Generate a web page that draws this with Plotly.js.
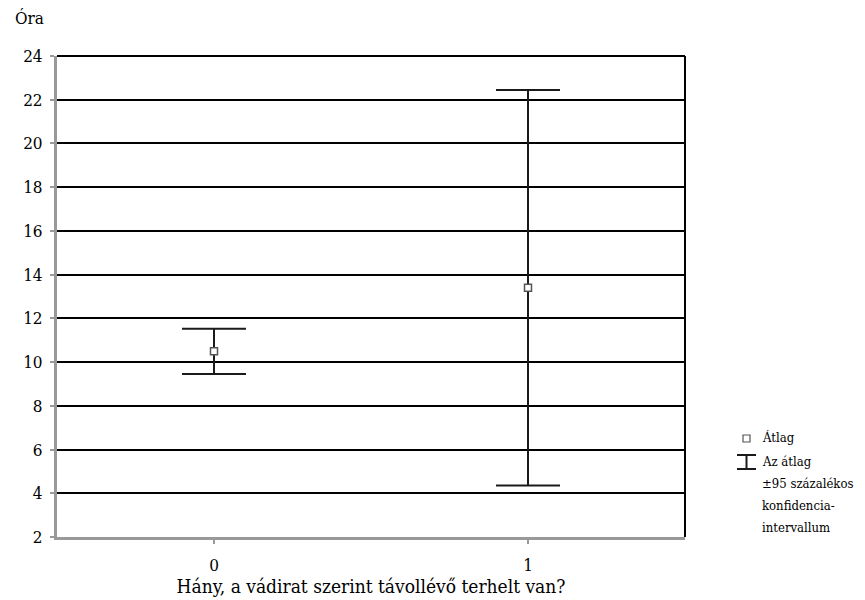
<!DOCTYPE html>
<html>
<head>
<meta charset="utf-8">
<script src="https://cdn.plot.ly/plotly-3.0.1.min.js"></script>
<style>html,body{margin:0;padding:0;background:#fff;}#chart{width:865px;height:600px;}</style>
</head>
<body>
<div id="chart"></div>
<script>
// Data
const categories = [0, 1];
const means = [10.5, 13.4];
const ciLower = [9.45, 4.35];
const ciUpper = [11.52, 22.45];
const yTicks = [2, 4, 6, 8, 10, 12, 14, 16, 18, 20, 22, 24];
const xTickLabels = ['0', '1'];

const font = "DejaVu Serif Condensed, DejaVu Serif";

const trace = {
  type: 'scatter',
  mode: 'markers',
  x: categories,
  y: means,
  marker: {symbol: 'square', size: 7, color: '#fff', line: {color: '#555', width: 1.5}},
  error_y: {
    type: 'data', symmetric: false,
    array: means.map((m, i) => ciUpper[i] - m),
    arrayminus: means.map((m, i) => m - ciLower[i]),
    color: '#1a1a1a', thickness: 2, width: 32
  },
  showlegend: false,
  hoverinfo: 'skip'
};

const L = 57, R = 685, T = 56, B = 537;
const px = x => (x - L) / (R - L);
const py = y => (B - y) / (B - T);

const legendLines = [
  ['Átlag', 438],
  ['Az átlag', 461],
  ['±95 százalékos', 483],
  ['konfidencia-', 505],
  ['intervallum', 527]
];

const annotations = legendLines.map(([t, y]) => ({
  text: t, xref: 'paper', yref: 'paper', x: px(760), y: py(y),
  xanchor: 'left', yanchor: 'middle', showarrow: false,
  font: {family: font, size: 13, color: '#000'}
}));
annotations.push({
  text: 'Óra', xref: 'paper', yref: 'paper', x: px(13), y: py(18),
  xanchor: 'left', yanchor: 'middle', showarrow: false,
  font: {family: font, size: 17, color: '#000'}
});

const shapes = [
  {type: 'line', xref: 'paper', yref: 'paper', x0: 0, x1: 1, y0: 1, y1: 1, line: {color: '#000', width: 2}},
  {type: 'line', xref: 'paper', yref: 'paper', x0: 1, x1: 1, y0: 0, y1: 1, line: {color: '#000', width: 2}},
  {type: 'rect', xref: 'paper', yref: 'paper', x0: px(743), x1: px(750), y0: py(442), y1: py(435), fillcolor: '#fff', line: {color: '#555', width: 1.2}},
  {type: 'line', xref: 'paper', yref: 'paper', x0: px(737), x1: px(756), y0: py(455), y1: py(455), line: {color: '#1a1a1a', width: 2}},
  {type: 'line', xref: 'paper', yref: 'paper', x0: px(737), x1: px(756), y0: py(469), y1: py(469), line: {color: '#1a1a1a', width: 2}},
  {type: 'line', xref: 'paper', yref: 'paper', x0: px(746.5), x1: px(746.5), y0: py(455), y1: py(469), line: {color: '#1a1a1a', width: 2}}
];

const layout = {
  width: 865, height: 600,
  margin: {l: L, r: 865 - R, t: T, b: 600 - B, pad: 0},
  paper_bgcolor: '#fff', plot_bgcolor: '#fff',
  font: {family: font, size: 16, color: '#000'},
  showlegend: false,
  xaxis: {
    type: 'linear', range: [-0.5, 1.5], tickvals: categories, ticktext: xTickLabels,
    showgrid: false, zeroline: false,
    showline: true, linecolor: '#999', linewidth: 3,
    ticks: 'outside', ticklen: 4, tickwidth: 2, tickcolor: '#999',
    ticklabelstandoff: 7,
    tickfont: {family: font, size: 17, color: '#000'},
    title: {text: 'Hány, a vádirat szerint távollévő terhelt van?', standoff: 2}
  },
  yaxis: {
    range: [2, 24], tickvals: yTicks,
    showgrid: true, gridcolor: '#000', gridwidth: 2, zeroline: false,
    showline: true, linecolor: '#999', linewidth: 3,
    ticks: 'outside', ticklen: 4, tickwidth: 2, tickcolor: '#999',
    ticklabelstandoff: 4,
    tickfont: {family: font, size: 17, color: '#000'}
  },
  annotations: annotations,
  shapes: shapes
};

Plotly.newPlot('chart', [trace], layout, {displayModeBar: false, staticPlot: true});
</script>
</body>
</html>
